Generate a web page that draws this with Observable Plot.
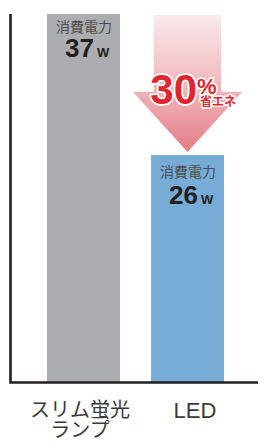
<!DOCTYPE html>
<html><head><meta charset="utf-8">
<script src="https://cdn.jsdelivr.net/npm/d3@7"></script>
<script src="https://cdn.jsdelivr.net/npm/@observablehq/plot@0.6"></script>
<style>body{margin:0;background:#fff} svg{display:block}</style>
</head><body><div id="chart"></div>
<script>
const categories = ["スリム蛍光\nランプ", "LED"];
const watts = [37, 26];
const barColors = ["#acadb1", "#76acd6"];
const valueLabel = "消費電力";
const unitLabel = "W";
const savingLabel = "省エネ";

const data = categories.map((c, i) => ({category: c, watt: watts[i], color: barColors[i]}));
const saving = Math.round((1 - watts[1] / watts[0]) * 100);
const yMin = 8.3;
const JP = "'Noto Sans CJK JP', 'Noto Sans', sans-serif";
const LAT = "'Liberation Sans', Arial, sans-serif";

const arrowMark = (index, scales) => {
  const {x, y} = scales;
  const bw = x.bandwidth();
  const cx = x(categories[1]) + bw / 2;
  const top = y(watts[0]) + 1;
  const tip = y(watts[1]) - 3;
  const neck = top + 0.56 * (tip - top);
  const shaft = bw * 0.46, head = bw * 0.75;
  const g = d3.create("svg:g");
  const grad = g.append("defs").append("linearGradient").attr("id", "arrowGrad")
    .attr("x1", 0).attr("y1", 0).attr("x2", 0).attr("y2", 1);
  grad.append("stop").attr("offset", 0).attr("stop-color", "#faeaec");
  grad.append("stop").attr("offset", 0.55).attr("stop-color", "#f0b4b9");
  grad.append("stop").attr("offset", 1).attr("stop-color", "#e47d85");
  g.append("path")
    .attr("d", `M${cx - shaft},${top}H${cx + shaft}V${neck}H${cx + head}L${cx},${tip}L${cx - head},${neck}H${cx - shaft}Z`)
    .attr("fill", "url(#arrowGrad)");
  return g.node();
};

const axesMark = (index, scales, values, dims) => {
  const {width, height, marginLeft, marginRight, marginTop, marginBottom} = dims;
  const b = height - marginBottom + 0.5;
  const g = d3.create("svg:g").attr("stroke", "#231f20").attr("stroke-width", 2.6).attr("fill", "none");
  g.append("path").attr("d", `M${marginLeft + 0.5},${marginTop}V${b}H${width - marginRight}`);
  return g.node();
};

const first = (d, i) => i === 0;
const second = (d, i) => i === 1;
const onArrow = {x: () => categories[1], y: () => watts[0], lineAnchor: "bottom"};
const outline = {stroke: "white", strokeWidth: 3.5, paintOrder: "stroke", fill: "#e0262d", fontWeight: "bold"};

const chart = Plot.plot({
  width: 270, height: 445,
  marginTop: 14, marginBottom: 63, marginLeft: 10, marginRight: 12,
  x: {domain: categories, paddingInner: 0.295, paddingOuter: 0.3286, align: 0.52, axis: null},
  y: {domain: [yMin, d3.max(watts)], clamp: true, axis: null},
  color: {type: "identity"},
  style: {background: "#fff"},
  marks: [
    Plot.barY(data, {x: "category", y: "watt", fill: "color"}),
    arrowMark,
    // value labels inside bars
    Plot.text(data, {filter: first, x: "category", y: "watt", text: () => valueLabel, lineAnchor: "bottom", dy: 17, fontSize: 14, fill: "#4d4d4d", fontFamily: JP}),
    Plot.text(data, {filter: second, x: "category", y: "watt", text: () => valueLabel, lineAnchor: "bottom", dy: 21, fontSize: 14, fill: "#4d4d4d", fontFamily: JP}),
    Plot.text(data, {filter: first, x: "category", y: "watt", text: d => String(d.watt), lineAnchor: "bottom", textAnchor: "end", dx: 10, dy: 42, fontSize: 26, fontWeight: "bold", fill: "#231f20", fontFamily: LAT}),
    Plot.text(data, {filter: second, x: "category", y: "watt", text: d => String(d.watt), lineAnchor: "bottom", textAnchor: "end", dx: 10, dy: 48, fontSize: 26, fontWeight: "bold", fill: "#231f20", fontFamily: LAT}),
    Plot.text(data, {filter: first, x: "category", y: "watt", text: () => unitLabel, lineAnchor: "bottom", textAnchor: "start", dx: 13, dy: 42, fontSize: 13, fontWeight: "bold", fill: "#231f20", fontFamily: LAT}),
    Plot.text(data, {filter: second, x: "category", y: "watt", text: () => unitLabel, lineAnchor: "bottom", textAnchor: "start", dx: 13, dy: 48, fontSize: 13, fontWeight: "bold", fill: "#231f20", fontFamily: LAT}),
    // saving labels on the arrow
    Plot.text([saving], {...onArrow, ...outline, text: d => String(d), textAnchor: "end", dx: 9, dy: 89, fontSize: 42, fontFamily: LAT}),
    Plot.text([saving], {...onArrow, ...outline, text: () => "%", textAnchor: "start", dx: 9, dy: 79, fontSize: 22, fontFamily: LAT}),
    Plot.text([savingLabel], {...onArrow, ...outline, strokeWidth: 3, text: d => d, textAnchor: "start", dx: 12, dy: 91, fontSize: 12, fontFamily: JP}),
    // category labels
    Plot.text(data, {filter: first, x: "category", frameAnchor: "bottom", text: "category", lineAnchor: "bottom", lineHeight: 1, dx: -4, dy: 54, fontSize: 20, fill: "#3a3a3a", fontFamily: JP}),
    Plot.text(data, {filter: second, x: "category", frameAnchor: "bottom", text: "category", lineAnchor: "bottom", dx: 7, dy: 35, fontSize: 22, fill: "#3a3a3a", fontFamily: LAT}),
    axesMark
  ]
});
document.getElementById("chart").appendChild(chart);
</script>
</body></html>
